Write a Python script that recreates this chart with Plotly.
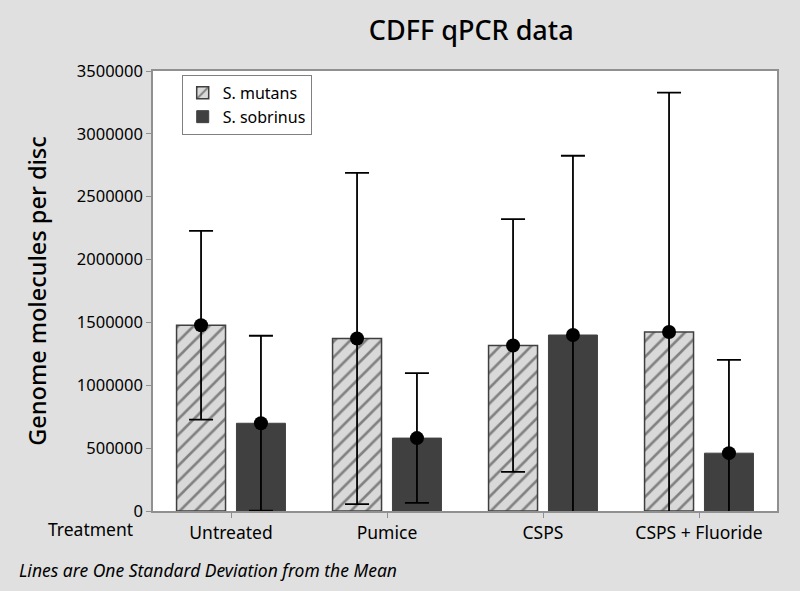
import plotly.graph_objects as go

categories = ["Untreated", "Pumice", "CSPS", "CSPS + Fluoride"]
mutans_mean = [1478000, 1372000, 1316000, 1424000]
mutans_sd = [751000, 1318000, 1005000, 1904000]
sobrinus_mean = [698000, 580000, 1400000, 460000]
sobrinus_sd = [696000, 516000, 1426000, 742000]
yticks = [0, 500000, 1000000, 1500000, 2000000, 2500000, 3000000, 3500000]

BAR_W = 0.314
OFF = 0.192
idx = list(range(len(categories)))
x_mut = [i - OFF for i in idx]
x_sob = [i + OFF for i in idx]

fig = go.Figure()
fig.add_trace(go.Bar(
    x=x_mut, y=mutans_mean, width=BAR_W, name="S. mutans",
    marker=dict(color="#d9d9d9", line=dict(color="#3f3f3f", width=1.5),
                pattern=dict(shape="/", fgcolor="#2a2a2a", bgcolor="#d9d9d9",
                             size=11, solidity=0.24)),
    error_y=dict(type="data", array=mutans_sd, visible=True, color="black",
                 thickness=1.8, width=12),
))
fig.add_trace(go.Bar(
    x=x_sob, y=sobrinus_mean, width=BAR_W, name="S. sobrinus",
    marker=dict(color="#404040", line=dict(color="#404040", width=1)),
    error_y=dict(type="data", array=sobrinus_sd, visible=True, color="black",
                 thickness=1.8, width=12),
))
fig.add_trace(go.Scatter(
    x=x_mut + x_sob, y=mutans_mean + sobrinus_mean, mode="markers",
    marker=dict(color="black", size=14), showlegend=False, hoverinfo="skip",
))

fig.update_layout(
    width=800, height=591,
    paper_bgcolor="#e0e0e0", plot_bgcolor="white",
    margin=dict(l=153, r=23, t=71, b=80),
    barmode="overlay",
    font=dict(family="Noto Sans", color="black"),
    title=dict(text="CDFF qPCR data", x=0.589, xanchor="center", y=0.949,
               yanchor="middle", font=dict(size=27, family="Noto Sans", weight=500)),
    showlegend=True,
    legend=dict(x=0.046, y=0.991, xanchor="left", yanchor="top",
                bgcolor="white", bordercolor="#808080", borderwidth=1,
                font=dict(size=16), tracegroupgap=0),
    xaxis=dict(range=[-0.5, 3.5], tickvals=idx, ticktext=categories,
               ticks="outside", ticklen=5, tickcolor="#909090",
               showgrid=False, zeroline=False, showline=True,
               linecolor="#909090", linewidth=1.5, mirror=True,
               tickfont=dict(size=17.5)),
    yaxis=dict(range=[0, 3500000], tickvals=yticks, tickformat="d",
               ticks="outside", ticklen=5, tickcolor="#909090",
               showgrid=False, zeroline=False, showline=True,
               linecolor="#909090", linewidth=1.5, mirror=True,
               tickfont=dict(size=16.5),
               title=dict(text="Genome molecules per disc",
                          font=dict(size=23.5, weight=500), standoff=24)),
    annotations=[
        dict(text="Treatment", xref="paper", yref="paper", x=-0.1, y=-0.008,
             xanchor="center", yanchor="top", showarrow=False,
             font=dict(size=17.5)),
        dict(text="<i>Lines are One Standard Deviation from the Mean</i>",
             xref="paper", yref="paper", x=-0.218, y=-0.134,
             xanchor="left", yanchor="middle", showarrow=False,
             font=dict(size=17.5)),
    ],
)

fig.write_html("out.html", config={"displayModeBar": False},
               post_script="document.body.style.margin='0px';")
